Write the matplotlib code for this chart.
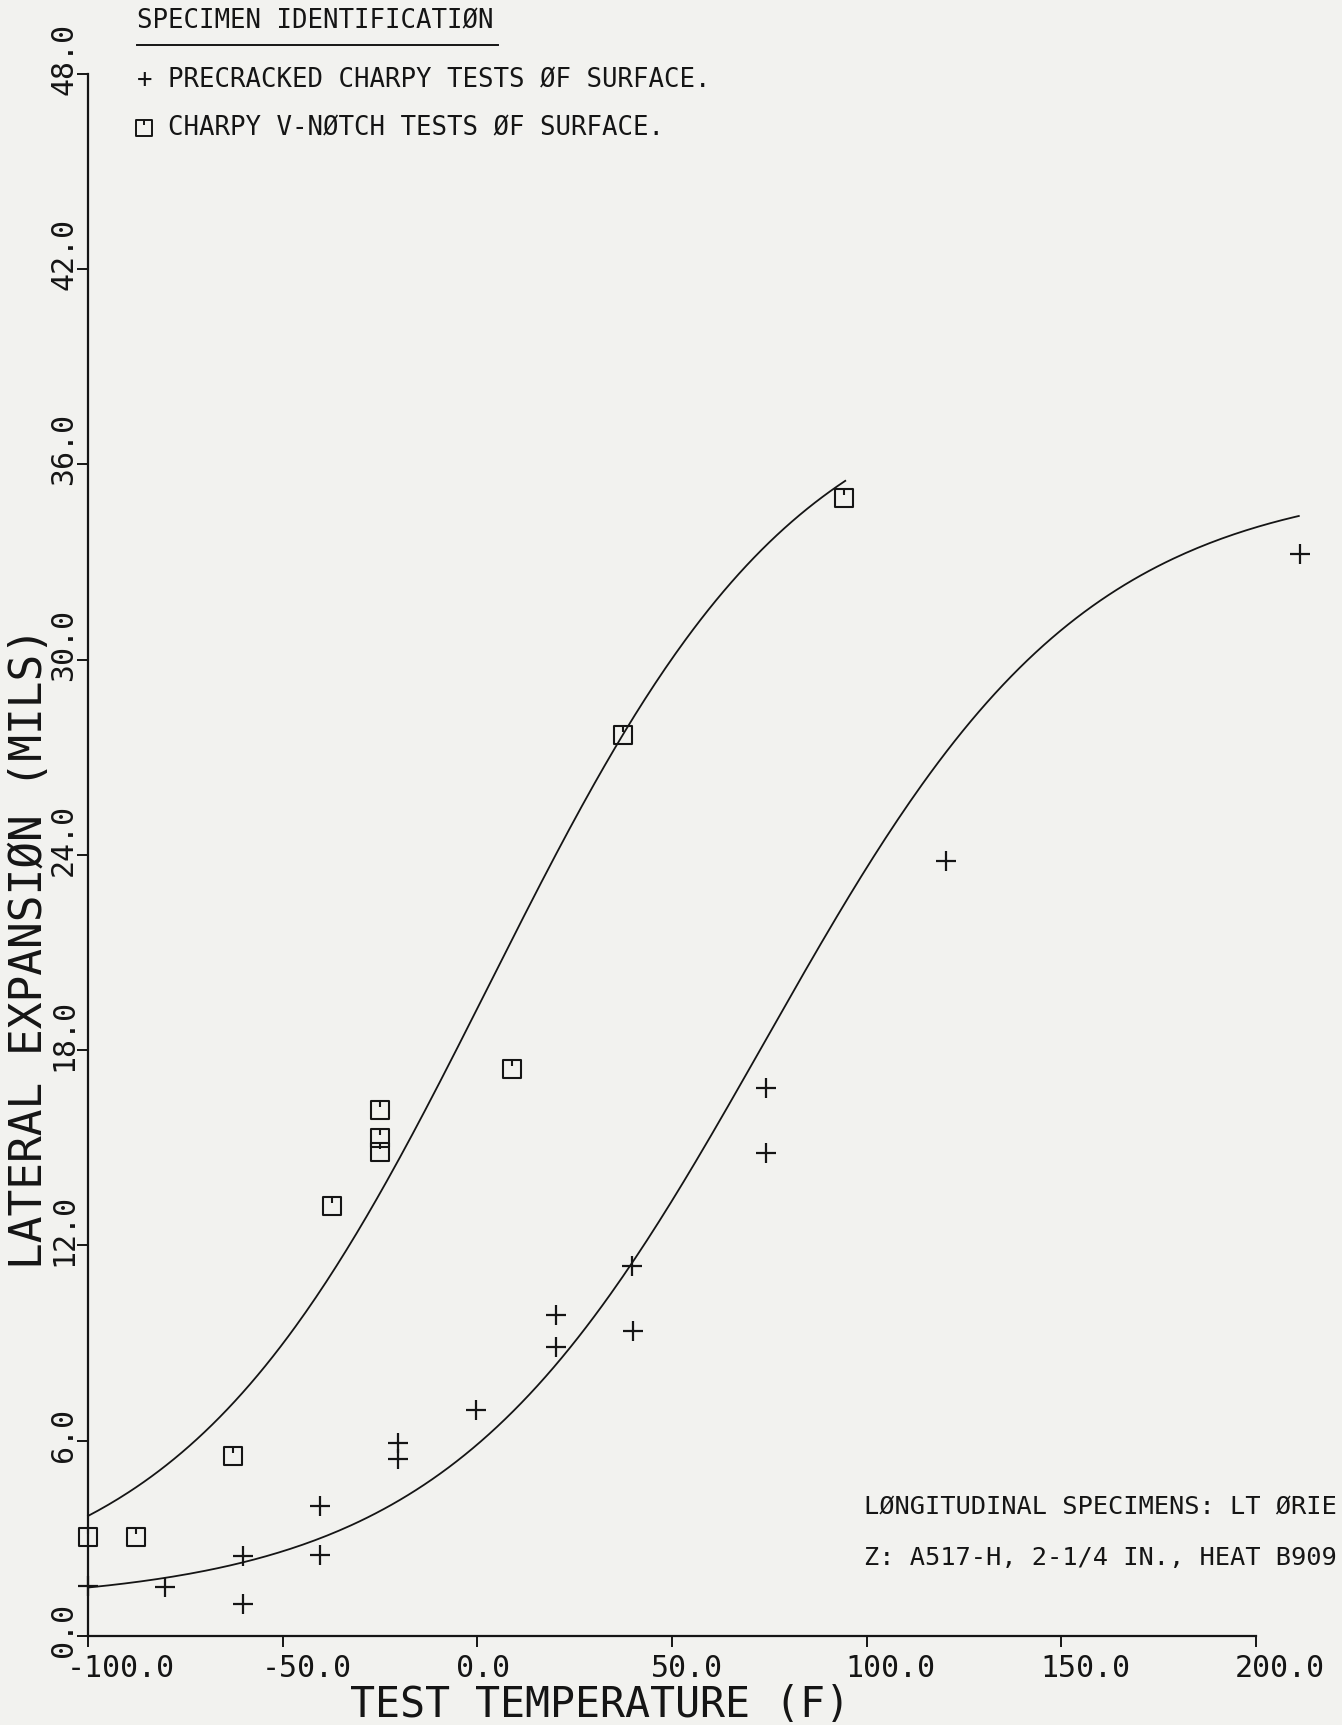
import numpy as np
import matplotlib
matplotlib.use("Agg")
import matplotlib.pyplot as plt
from matplotlib.path import Path
from matplotlib.lines import Line2D
from matplotlib.transforms import offset_copy

plt.rcParams['font.family'] = ['DejaVu Sans Mono', 'DejaVu Sans']

# Charpy V-notch tests (squares)
cvn_temp = [-100, -87.6, -62.7, -37.4, -24.9, -24.9, -24.9, 9.0, 37.5, 94.2]
cvn_le = [3.04, 3.04, 5.53, 13.2, 14.88, 15.29, 16.16, 17.42, 27.69, 34.97]

# precracked Charpy tests (pluses)
pcc_temp = [-100, -80.2, -60.2, -60.2, -40.4, -40.4, -20.4, -20.4, -0.4,
            20.1, 20.1, 39.7, 40.1, 74.2, 74.2, 120.4, 211.3]
pcc_le = [1.55, 1.52, 2.46, 0.98, 3.98, 2.5, 5.94, 5.43, 6.95,
          9.87, 8.87, 11.36, 9.36, 16.83, 14.83, 23.81, 33.25]

# hyperbolic tangent fits: (mid value, half range, T0, C, T start, T end)
cvn_fit = (20.0, 19.0, 3.0, 80.0, -100.0, 94.5)
pcc_fit = (18.3, 17.3, 74.0, 82.0, -100.0, 211.0)

xticks = [-100, -50, 0, 50, 100, 150, 200]
yticks = [0, 6, 12, 18, 24, 30, 36, 42, 48]

bg = '#f2f2ef'
ink = '#151515'

# square plotter symbol with a small stroke inside
sq_marker = Path([(-1, -1), (1, -1), (1, 1), (-1, 1), (-1, -1), (0, 1), (0, 0.35)],
                 [Path.MOVETO, Path.LINETO, Path.LINETO, Path.LINETO, Path.CLOSEPOLY,
                  Path.MOVETO, Path.LINETO])


def tanh_curve(params):
    a, b, t0, c, ts, te = params
    t = np.linspace(ts, te, 300)
    return t, a + b * np.tanh((t - t0) / c)


fig = plt.figure(figsize=(13.42, 17.25), dpi=100, facecolor=bg)
ax = fig.add_axes([0.0656, 0.0516, 0.8703, 0.9055])
ax.set_facecolor(bg)

for params in (cvn_fit, pcc_fit):
    t, v = tanh_curve(params)
    ax.plot(t, v, color=ink, lw=1.3, clip_on=False)

ax.plot(cvn_temp, cvn_le, linestyle='none', marker=sq_marker, markersize=13,
        markerfacecolor='none', markeredgecolor=ink, mew=1.5, clip_on=False)
ax.plot(pcc_temp, pcc_le, linestyle='none', marker='+', markersize=14,
        color=ink, mew=1.6, clip_on=False)

ax.set_xlim(-100, 200)
ax.set_ylim(0, 48)
ax.set_xticks(xticks)
ax.set_yticks(yticks)
ax.tick_params(direction='out', length=8, width=1.4, color=ink,
               labelbottom=False, labelleft=False)
for s in ('top', 'right'):
    ax.spines[s].set_visible(False)
for s in ('left', 'bottom'):
    ax.spines[s].set_linewidth(1.6)
    ax.spines[s].set_color(ink)

# plotter-style tick labels: text starts a little before the tick
xlab_tr = offset_copy(ax.get_xaxis_transform(), fig=fig, x=-21, y=-18, units='dots')
for t in xticks:
    ax.text(t, 0, f'{t:.1f}', transform=xlab_tr, ha='left', va='top',
            fontsize=21.5, color=ink)
ylab_tr = offset_copy(ax.get_yaxis_transform(), fig=fig, x=-10, y=-21, units='dots')
for v in yticks:
    ax.text(0, v, f'{v:.1f}', transform=ylab_tr, ha='right', va='bottom',
            rotation=90, fontsize=21.5, color=ink)

fig.text(600 / 1342, 1 - 1705 / 1725, 'TEST TEMPERATURE (F)', ha='center', va='center',
         fontsize=30, color=ink)
fig.text(30 / 1342, 1 - 948 / 1725, 'LATERAL EXPANSIØN (MILS)', ha='center', va='center',
         rotation=90, fontsize=32, color=ink)

# legend block
fig.text(137 / 1342, 1 - 21 / 1725, 'SPECIMEN IDENTIFICATIØN', ha='left', va='center',
         fontsize=18.5, color=ink)
fig.add_artist(Line2D([137 / 1342, 498 / 1342], [1 - 45 / 1725, 1 - 45 / 1725],
                      color=ink, lw=1.4))
fig.text(137 / 1342, 1 - 80 / 1725, '+ PRECRACKED CHARPY TESTS ØF SURFACE.', ha='left',
         va='center', fontsize=18.5, color=ink)
fig.add_artist(Line2D([144 / 1342], [1 - 128 / 1725], marker=sq_marker, markersize=11,
                      markerfacecolor='none', markeredgecolor=ink, mew=1.4))
fig.text(168 / 1342, 1 - 128 / 1725, 'CHARPY V-NØTCH TESTS ØF SURFACE.', ha='left',
         va='center', fontsize=18.5, color=ink)

# specimen note, as far as it shows before the page edge
fig.text(864 / 1342, 1 - 1506 / 1725, 'LØNGITUDINAL SPECIMENS: LT ØRIE', ha='left',
         va='center', fontsize=18.3, color=ink)
fig.text(864 / 1342, 1 - 1558 / 1725, 'Z: A517-H, 2-1/4 IN., HEAT B909', ha='left',
         va='center', fontsize=18.3, color=ink)

fig.savefig('out.png', dpi=100, facecolor=bg)
